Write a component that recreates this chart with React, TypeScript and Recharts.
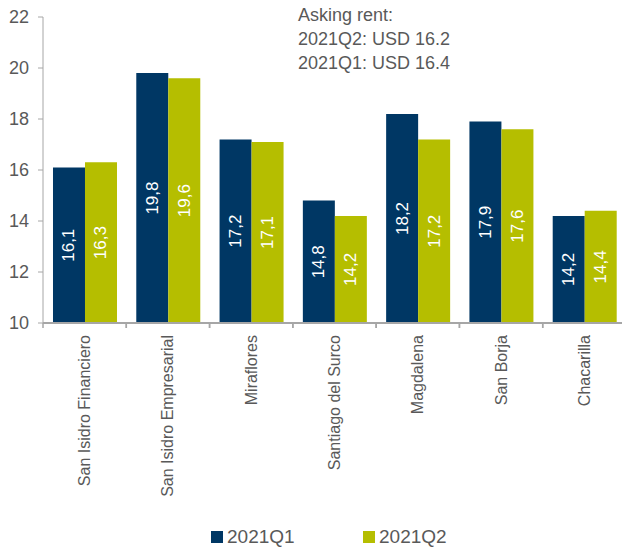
import { BarChart, Bar, XAxis, YAxis, Legend, LabelList } from "recharts";

const districts = [
  "San Isidro Financiero",
  "San Isidro Empresarial",
  "Miraflores",
  "Santiago del Surco",
  "Magdalena",
  "San Borja",
  "Chacarilla",
];
const q1Values = [16.1, 19.8, 17.2, 14.8, 18.2, 17.9, 14.2];
const q2Values = [16.3, 19.6, 17.1, 14.2, 17.2, 17.6, 14.4];
const yTicks = [10, 12, 14, 16, 18, 20, 22];
const noteLines = ["Asking rent:", "2021Q2: USD 16.2", "2021Q1: USD 16.4"];

const NAVY = "#003764";
const OLIVE = "#b5be00";
const GREY_TEXT = "#595959";
const AXIS = "#a6a6a6";
const FONT = "'Liberation Sans', Arial, sans-serif";
const X_TICK_SIZE = 5;
const X_TICK_MARGIN = 7;

const data = districts.map((name, i) => ({
  name,
  q1: q1Values[i],
  q2: q2Values[i],
}));

const commaFmt = (v: any) => String(v).replace(".", ",");

// label + a tick mark on the left edge of the band (ticks sit between categories)
const XTick = ({ x, y, payload }: any) => {
  const half = payload.offset || 0;
  const axisY = y - X_TICK_SIZE - X_TICK_MARGIN;
  return (
    <g>
      <line x1={x - half} x2={x - half} y1={axisY} y2={axisY + X_TICK_SIZE} stroke={AXIS} strokeWidth={1.5} />
      <line x1={x + half} x2={x + half} y1={axisY} y2={axisY + X_TICK_SIZE} stroke={AXIS} strokeWidth={1.5} />
      <text
        x={x}
        y={y}
        transform={`rotate(-90, ${x}, ${y})`}
        textAnchor="end"
        dominantBaseline="central"
        fill={GREY_TEXT}
        fontSize={16}
        fontFamily={FONT}
      >
        {payload.value}
      </text>
    </g>
  );
};

const BarValue = ({ x, y, width, height, value }: any) => {
  const cx = x + width / 2;
  const cy = y + height / 2;
  return (
    <text
      x={cx}
      y={cy}
      transform={`rotate(-90, ${cx}, ${cy})`}
      textAnchor="middle"
      dominantBaseline="central"
      fill="#ffffff"
      fontSize={17}
      fontFamily={FONT}
    >
      {commaFmt(value)}
    </text>
  );
};

const LegendBox = () => (
  <div style={{ position: "relative", height: 24, fontFamily: FONT, fontSize: 19, color: GREY_TEXT }}>
    {[
      { label: "2021Q1", color: NAVY, left: 211 },
      { label: "2021Q2", color: OLIVE, left: 363 },
    ].map((item) => (
      <div key={item.label} style={{ position: "absolute", left: item.left, top: 2, display: "flex", alignItems: "center" }}>
        <span style={{ display: "inline-block", width: 12, height: 12, background: item.color, marginRight: 4 }} />
        <span>{item.label}</span>
      </div>
    ))}
  </div>
);

export default function App() {
  return (
    <div style={{ position: "absolute", left: 0, top: 0, width: 622, height: 548, overflow: "hidden", background: "#fff" }}>
      <BarChart
        width={626}
        height={548}
        data={data}
        margin={{ top: 17, right: 0, left: 0, bottom: 0 }}
        barCategoryGap="12%"
        barGap={0}
      >
        <YAxis
          domain={[10, 22]}
          ticks={yTicks}
          width={43}
          tickSize={5}
          tickMargin={9}
          axisLine={{ stroke: AXIS }}
          tickLine={{ stroke: AXIS }}
          tick={{ fill: GREY_TEXT, fontSize: 18, fontFamily: FONT }}
          allowDataOverflow
        />
        <XAxis
          dataKey="name"
          height={201}
          interval={0}
          tickLine={false}
          tickSize={X_TICK_SIZE}
          tickMargin={X_TICK_MARGIN}
          axisLine={{ stroke: AXIS, strokeWidth: 2 }}
          tick={<XTick />}
        />
        <Legend verticalAlign="bottom" height={24} content={() => <LegendBox />} />
        <Bar dataKey="q1" fill={NAVY} isAnimationActive={false}>
          <LabelList dataKey="q1" content={<BarValue />} />
        </Bar>
        <Bar dataKey="q2" fill={OLIVE} isAnimationActive={false}>
          <LabelList dataKey="q2" content={<BarValue />} />
        </Bar>
      </BarChart>
      <div
        style={{
          position: "absolute",
          left: 298,
          top: 3,
          fontFamily: FONT,
          fontSize: 18,
          lineHeight: "24px",
          color: GREY_TEXT,
        }}
      >
        {noteLines.map((line) => (
          <div key={line}>{line}</div>
        ))}
      </div>
    </div>
  );
}
